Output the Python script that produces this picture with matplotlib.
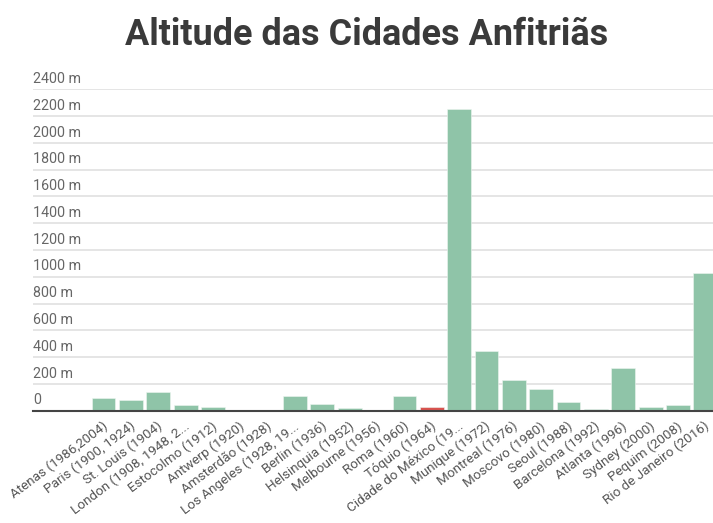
import matplotlib
matplotlib.use("Agg")
import matplotlib.pyplot as plt
from matplotlib import transforms

plt.rcParams['font.family'] = ['Roboto', 'DejaVu Sans']

cities = [
    "Atenas (1986,2004)", "Paris (1900, 1924)", "St. Louis (1904)",
    "London (1908, 1948, 2...", "Estocolmo (1912)", "Antwerp (1920)",
    "Amsterdão (1928)", "Los Angeles (1928, 19...", "Berlin (1936)",
    "Helsinquia (1952)", "Melbourne (1956)", "Roma (1960)", "Tóquio (1964)",
    "Cidade do México (19...", "Munique (1972)", "Montreal (1976)",
    "Moscovo (1980)", "Seoul (1988)", "Barcelona (1992)", "Atlanta (1996)",
    "Sydney (2000)", "Pequim (2008)", "Rio de Janeiro (2016)",
]
altitude_m = [97, 82, 142, 45, 30, 0, 0, 112, 52, 22, 8, 114, 25,
              2255, 450, 231, 166, 62, 12, 323, 25, 47, 1027]
highlight = "Tóquio (1964)"
y_ticks = [0, 200, 400, 600, 800, 1000, 1200, 1400, 1600, 1800, 2000, 2200, 2400]

green = "#8fc4a8"
red = "#d9534f"

fig = plt.figure(figsize=(7.13, 5.23), dpi=100)
ax = fig.add_axes([33 / 713, 112.2 / 523, 680 / 713, (410.8 - 89.3) / 523])

x = list(range(len(cities)))
colors = [red if c == highlight else green for c in cities]
ax.bar(x, altitude_m, width=0.87, color=colors, edgecolor="#eef6f1",
       linewidth=0.4, zorder=3)

ax.set_xlim(-2.58, 22.28)
ax.set_ylim(0, 2400)

# gridlines with their labels sitting just above
for v in y_ticks:
    if v > 0:
        ax.axhline(v, color="#e3e3e3", linewidth=1.3, zorder=1)
ytrans = transforms.blended_transform_factory(ax.transAxes, ax.transData)
for v in y_ticks:
    label = "0" if v == 0 else f"{v} m"
    ax.text(0.0, v + 25, label, transform=ytrans, ha="left", va="bottom",
            fontsize=10.3, color="#666666", zorder=4)

ax.axhline(0, color="#444444", linewidth=1.5, zorder=5, clip_on=False)

# slanted category labels, anchored just below each bar
xtrans = transforms.blended_transform_factory(ax.transData, ax.transAxes)
shift = transforms.ScaledTranslation(3.5 / 72, -12.2 / 72, fig.dpi_scale_trans)
for xi, name in zip(x, cities):
    ax.text(xi, 0, name, transform=xtrans + shift, rotation=37,
            rotation_mode="anchor", ha="right", va="baseline",
            fontsize=9.7, color="#555555", clip_on=False)

ax.set_xticks([])
ax.tick_params(axis="y", left=False, labelleft=False)
for s in ax.spines.values():
    s.set_visible(False)

fig.text(367 / 713, 1 - 45 / 523, "Altitude das Cidades Anfitriãs",
         ha="center", va="baseline", fontsize=25.9, fontweight="bold",
         color="#3a3a3a")

fig.savefig("out.png", dpi=100)
